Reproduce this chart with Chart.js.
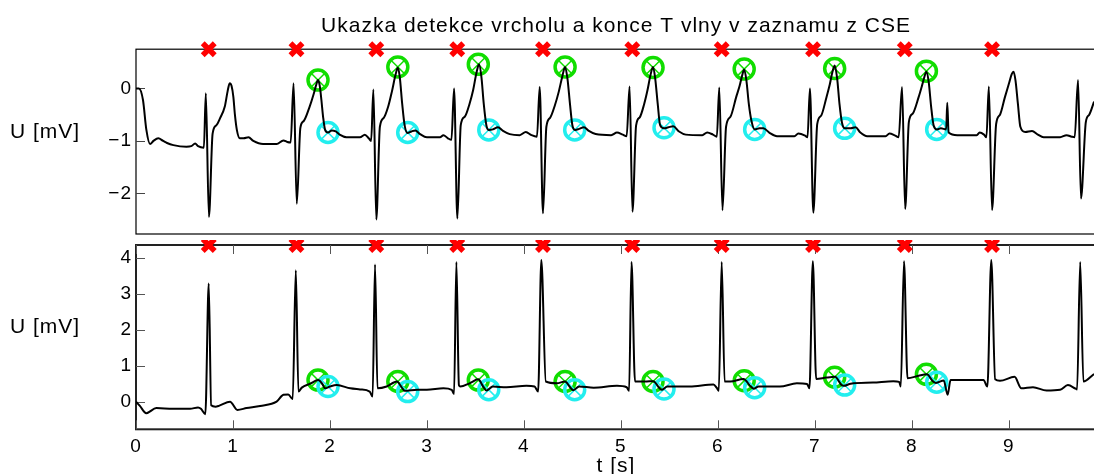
<!DOCTYPE html>
<html>
<head>
<meta charset="utf-8">
<title>Ukazka detekce vrcholu a konce T vlny</title>
<script src="https://cdn.jsdelivr.net/npm/chart.js@4.4.1/dist/chart.umd.min.js"></script>
<style>
  html, body { margin: 0; padding: 0; overflow: hidden; background: #fff; }
  canvas { position: absolute; left: 0; display: block; }
  #ecg-top { top: 0; width: 1100px; height: 236px; }
  #ecg-bottom { top: 240px; width: 1100px; height: 237px; }
</style>
</head>
<body>
<canvas id="ecg-top" width="1100" height="236"></canvas>
<canvas id="ecg-bottom" width="1100" height="237"></canvas>
<script>
/*
  Ukazka detekce vrcholu a konce T vlny v zaznamu z CSE
  two leads, time in s, voltage in mV
*/

// lead 1 (upper panel)
const topTime = [
  0.00, 0.03, 0.072, 0.107, 0.145, 0.18, 0.23, 0.28, 0.32, 0.385, 0.52, 0.57, 0.61, 0.64, 0.70,
  0.72, 0.752, 0.79, 0.83, 0.866, 0.915, 0.945, 0.966, 0.985, 1.004, 1.02, 1.04, 1.07, 1.11, 1.16, 1.21, 1.31, 1.45, 1.52, 1.56, 1.595,
  1.625, 1.658, 1.695, 1.73, 1.79, 1.83, 1.855, 1.877, 1.895, 1.912, 1.93, 1.95, 1.98, 2.02, 2.06, 2.10, 2.17, 2.31, 2.36, 2.40, 2.425,
  2.448, 2.478, 2.515, 2.555, 2.60, 2.64, 2.675, 2.70, 2.72, 2.745, 2.77, 2.80, 2.84, 2.88, 2.93, 3.00, 3.135, 3.17, 3.217, 3.253,
  3.28, 3.314, 3.349, 3.39, 3.44, 3.477, 3.51, 3.537, 3.562, 3.586, 3.613, 3.64, 3.68, 3.733, 3.785, 3.854, 3.957, 4.02, 4.078, 4.135,
  4.163, 4.197, 4.232, 4.27, 4.32, 4.36, 4.395, 4.425, 4.45, 4.475, 4.50, 4.53, 4.57, 4.62, 4.67, 4.74, 4.90, 4.96, 5.02, 5.06,
  5.09, 5.12, 5.157, 5.195, 5.24, 5.275, 5.305, 5.332, 5.355, 5.38, 5.405, 5.445, 5.49, 5.54, 5.60, 5.67, 5.84, 5.89, 5.95, 5.99,
  6.015, 6.048, 6.085, 6.13, 6.19, 6.225, 6.25, 6.272, 6.295, 6.32, 6.345, 6.38, 6.43, 6.47, 6.53, 6.61, 6.79, 6.83, 6.90, 6.925,
  6.95, 6.985, 7.025, 7.065, 7.12, 7.155, 7.18, 7.205, 7.23, 7.255, 7.28, 7.31, 7.37, 7.42, 7.47, 7.54, 7.73, 7.77, 7.83, 7.865,
  7.90, 7.932, 7.97, 8.01, 8.07, 8.105, 8.13, 8.151, 8.175, 8.20, 8.225, 8.26, 8.30, 8.355, 8.366, 8.38, 8.47, 8.67, 8.70, 8.745, 8.77,
  8.795, 8.828, 8.87, 8.91, 8.96, 9.00, 9.03, 9.05, 9.07, 9.095, 9.12, 9.17, 9.24, 9.30, 9.36, 9.53, 9.596, 9.65, 9.68,
  9.715, 9.745, 9.795, 9.83, 9.88
];
const topVolt = [
  0.00, 0.00, -0.22, -0.79, -1.06, -1.00, -0.95, -1.00, -1.04, -1.08, -1.11, -1.10, -1.05, -1.10, -1.13,
  -0.09, -2.45, -0.86, -0.70, -0.57, -0.35, -0.05, 0.10, 0.05, -0.16, -0.50, -0.79, -0.95, -0.95, -0.93, -1.00, -1.06, -1.06, -0.99, -1.02, -1.03,
  0.10, -2.20, -0.75, -0.62, -0.35, -0.12, 0.05, 0.16, 0.05, -0.22, -0.55, -0.79, -0.84, -0.80, -0.82, -0.88, -0.93, -0.93, -0.88, -0.95, -1.00,
  -0.02, -2.50, -0.73, -0.56, -0.35, -0.05, 0.25, 0.40, 0.22, -0.29, -0.70, -0.85, -0.82, -0.80, -0.87, -0.93, -0.93, -0.89, -0.95, -0.98,
  0.00, -2.48, -0.70, -0.54, -0.29, -0.03, 0.29, 0.46, 0.22, -0.29, -0.70, -0.79, -0.78, -0.74, -0.81, -0.87, -0.89, -0.83, -0.89, -0.92,
  0.03, -2.38, -0.73, -0.56, -0.32, -0.06, 0.22, 0.41, 0.18, -0.29, -0.70, -0.79, -0.77, -0.74, -0.81, -0.87, -0.89, -0.84, -0.88, -0.91,
  0.04, -2.35, -0.71, -0.55, -0.30, -0.03, 0.25, 0.41, 0.18, -0.29, -0.70, -0.76, -0.74, -0.72, -0.82, -0.88, -0.89, -0.84, -0.88, -0.92,
  0.02, -2.32, -0.73, -0.54, -0.16, 0.05, 0.24, 0.36, 0.15, -0.30, -0.60, -0.78, -0.76, -0.76, -0.84, -0.91, -0.91, -0.86, -0.90, -0.93,
  0.00, -2.37, -0.68, -0.52, -0.17, 0.08, 0.30, 0.44, 0.20, -0.30, -0.65, -0.76, -0.76, -0.74, -0.84, -0.91, -0.91, -0.86, -0.90, -0.93,
  0.03, -2.30, -0.64, -0.48, -0.17, 0.05, 0.22, 0.32, 0.12, -0.35, -0.70, -0.78, -0.76, -0.78, -0.27, -0.84, -0.89, -0.89, -0.84, -0.88, -0.93,
  0.04, -2.32, -0.68, -0.50, -0.17, 0.08, 0.27, 0.32, 0.15, -0.30, -0.73, -0.83, -0.81, -0.88, -0.93, -0.93, -0.89, -0.92, -0.93,
  0.16, -2.10, -0.64, -0.50, -0.25
];

// lead 2 (lower panel)
const botTime = [
  0.00, 0.04, 0.105, 0.21, 0.38, 0.557, 0.64, 0.67, 0.715,
  0.750, 0.775, 0.82, 0.86, 0.97, 1.045, 1.14, 1.28, 1.45, 1.52, 1.57, 1.616,
  1.648, 1.675, 1.71, 1.795, 1.88, 1.92, 1.95, 2.00, 2.07, 2.21, 2.31, 2.41, 2.44,
  2.465, 2.49, 2.585, 2.69, 2.74, 2.77, 2.90, 3.00, 3.17, 3.256, 3.28,
  3.304, 3.33, 3.345, 3.44, 3.53, 3.58, 3.614, 3.68, 3.82, 4.026, 4.11, 4.147,
  4.18, 4.226, 4.34, 4.425, 4.477, 4.51, 4.57, 4.72, 4.96, 5.06, 5.085,
  5.11, 5.146, 5.25, 5.336, 5.39, 5.42, 5.48, 5.71, 5.955, 5.99, 6.01,
  6.04, 6.07, 6.13, 6.265, 6.34, 6.37, 6.42, 6.64, 6.815, 6.92, 6.945,
  6.98, 7.014, 7.12, 7.21, 7.27, 7.30, 7.37, 7.60, 7.81, 7.87, 7.887,
  7.92, 7.956, 8.07, 8.156, 8.22, 8.25, 8.33, 8.37, 8.40, 8.53, 8.74, 8.78,
  8.82, 8.86, 8.91, 9.06, 9.13, 9.25, 9.39, 9.53, 9.61, 9.69, 9.705,
  9.737, 9.77, 9.88
];
const botVolt = [
  0.00, -0.12, -0.32, -0.18, -0.20, -0.20, -0.16, -0.20, -0.35,
  3.29, -0.10, -0.14, -0.11, 0.00, -0.23, -0.18, -0.12, 0.00, 0.19, 0.20, 0.07,
  3.66, 0.28, 0.39, 0.50, 0.60, 0.50, 0.37, 0.42, 0.46, 0.37, 0.34, 0.28, 0.14,
  3.82, 0.37, 0.42, 0.56, 0.40, 0.30, 0.33, 0.33, 0.37, 0.33, 0.21,
  3.89, 0.46, 0.42, 0.51, 0.62, 0.42, 0.31, 0.42, 0.40, 0.44, 0.42, 0.28,
  3.94, 0.56, 0.51, 0.56, 0.40, 0.32, 0.42, 0.39, 0.44, 0.40, 0.30,
  3.89, 0.56, 0.56, 0.57, 0.40, 0.33, 0.42, 0.42, 0.48, 0.38, 0.30,
  3.89, 0.56, 0.56, 0.63, 0.42, 0.36, 0.42, 0.42, 0.51, 0.49, 0.37,
  3.91, 0.63, 0.67, 0.69, 0.48, 0.44, 0.50, 0.53, 0.57, 0.55, 0.42,
  3.91, 0.65, 0.72, 0.76, 0.56, 0.52, 0.59, 0.19, 0.60, 0.60, 0.60, 0.42,
  3.94, 0.62, 0.58, 0.69, 0.37, 0.40, 0.31, 0.33, 0.46, 0.36, 0.34,
  3.89, 0.56, 0.77
];

// detected points
const qrsTimes = [0.75, 1.655, 2.478, 3.313, 4.197, 5.118, 6.04, 6.982, 7.928, 8.828];
const tPeakTimes = [1.877, 2.70, 3.53, 4.425, 5.332, 6.272, 7.205, 8.151];
const tPeakTop = [0.16, 0.41, 0.46, 0.41, 0.40, 0.37, 0.38, 0.33];
const tPeakBot = [0.60, 0.56, 0.60, 0.56, 0.56, 0.58, 0.68, 0.76];
const tEndTimes = [1.98, 2.802, 3.638, 4.524, 5.445, 6.38, 7.308, 8.257];
const tEndTop = [-0.84, -0.84, -0.79, -0.79, -0.75, -0.78, -0.76, -0.78];
const tEndBot = [0.42, 0.28, 0.33, 0.33, 0.35, 0.39, 0.46, 0.54];

// axis limits (tight, like the original)
const topLimits = [-2.775, 0.749];
const botLimits = [-0.77, 4.36];
const timeLimits = [0, 9.9];

const FONT = '"Liberation Sans", Arial, Helvetica, sans-serif';

const toPoints = (xs, ys) => xs.map((x, i) => ({ x: x, y: ys[i] }));
const fmtTick = (v) => (v < 0 ? '\u2212' + Math.abs(v) : String(v));

// matlab-like box, inward ticks and horizontal ylabel
const matlabAxes = {
  id: 'matlabAxes',
  beforeDraw(chart) {
    // the original text is a bit wider than Arial at the same height
    if ('letterSpacing' in chart.ctx) chart.ctx.letterSpacing = '1px';
  },
  beforeDatasetsDraw(chart, args, opts) {
    const { ctx, chartArea: a, scales } = chart;
    ctx.save();
    ctx.strokeStyle = opts.frameColor;
    ctx.lineWidth = opts.frameWidth;
    ctx.strokeRect(a.left, a.top, a.right - a.left, a.bottom - a.top);
    ctx.strokeStyle = opts.tickColor;
    ctx.lineWidth = 1;
    ctx.beginPath();
    scales.y.ticks.forEach((t) => {
      const py = Math.round(scales.y.getPixelForValue(t.value)) + 0.5;
      ctx.moveTo(a.left, py);
      ctx.lineTo(a.left + 9, py);
    });
    if (opts.xTicks) {
      scales.x.ticks.forEach((t) => {
        const px = Math.round(scales.x.getPixelForValue(t.value)) + 0.5;
        ctx.moveTo(px, a.bottom);
        ctx.lineTo(px, a.bottom - 9);
        ctx.moveTo(px, a.top);
        ctx.lineTo(px, a.top + 9);
      });
    }
    ctx.stroke();
    ctx.restore();
  },
  afterDraw(chart, args, opts) {
    const { ctx, chartArea: a } = chart;
    ctx.save();
    ctx.fillStyle = '#000';
    ctx.font = '21px ' + FONT;
    ctx.textAlign = 'center';
    ctx.textBaseline = 'middle';
    ctx.fillText(opts.yLabel, 45, (a.top + a.bottom) / 2 - 9.5);
    ctx.restore();
  },
};

function markerSets(peakVals, endVals, qrsLevel) {
  const qrsVals = qrsTimes.map(() => qrsLevel);
  return [
    {
      data: toPoints(tEndTimes, endVals),
      pointStyle: 'circle', pointRadius: 10, pointBorderWidth: 3.5,
      pointBorderColor: '#22eeee', pointBackgroundColor: 'rgba(0,0,0,0)',
      showLine: false, order: 1, clip: false,
    },
    {
      data: toPoints(tEndTimes, endVals),
      pointStyle: 'crossRot', pointRadius: 10, pointBorderWidth: 1.5,
      pointBorderColor: '#22eeee', showLine: false, order: 1, clip: false,
    },
    {
      data: toPoints(tPeakTimes, peakVals),
      pointStyle: 'circle', pointRadius: 10, pointBorderWidth: 3.5,
      pointBorderColor: '#11dd00', pointBackgroundColor: 'rgba(0,0,0,0)',
      showLine: false, order: 2, clip: false,
    },
    {
      data: toPoints(tPeakTimes, peakVals),
      pointStyle: 'crossRot', pointRadius: 10, pointBorderWidth: 1.5,
      pointBorderColor: '#11dd00', showLine: false, order: 2, clip: false,
    },
    {
      data: toPoints(qrsTimes, qrsVals),
      pointStyle: 'crossRot', pointRadius: 8.5, pointBorderWidth: 5.5,
      pointBorderColor: '#ff0000', showLine: false, order: 0, clip: false,
    },
  ];
}

function yScale(limits) {
  return {
    type: 'linear',
    min: limits[0],
    max: limits[1],
    grid: { display: false, drawTicks: false },
    border: { display: false },
    ticks: {
      stepSize: 1,
      includeBounds: false,
      padding: 4,
      color: '#000',
      font: { family: FONT, size: 19 },
      callback: fmtTick,
    },
    afterFit: (scale) => {
      scale.width = 136;
      scale.paddingTop = 0;
      scale.paddingBottom = 0;
    },
  };
}

function traceSet(xs, ys) {
  return {
    data: toPoints(xs, ys),
    showLine: true, borderColor: '#000', borderWidth: 2,
    pointRadius: 0, cubicInterpolationMode: 'monotone', order: 0,
  };
}

const topConfig = {
  type: 'scatter',
  data: {
    datasets: [traceSet(topTime, topVolt)].concat(markerSets(tPeakTop, tEndTop, topLimits[1])),
  },
  options: {
    responsive: false,
    animation: false,
    devicePixelRatio: 1,
    layout: { autoPadding: false, padding: { top: 0, right: 4, bottom: 2, left: 0 } },
    scales: {
      x: { type: 'linear', display: false, min: timeLimits[0], max: timeLimits[1] },
      y: yScale(topLimits),
    },
    plugins: {
      legend: { display: false },
      tooltip: { enabled: false },
      title: {
        display: true,
        fullSize: false,
        text: 'Ukazka detekce vrcholu a konce T vlny v zaznamu z CSE',
        color: '#000',
        font: { family: FONT, size: 21, weight: 'normal', lineHeight: 1.2 },
        padding: { top: 14, bottom: 10 },
      },
      matlabAxes: { frameColor: '#000', frameWidth: 1.2, tickColor: '#444', xTicks: false, yLabel: 'U [mV]' },
    },
  },
  plugins: [matlabAxes],
};

const botConfig = {
  type: 'scatter',
  data: {
    datasets: [traceSet(botTime, botVolt)].concat(markerSets(tPeakBot, tEndBot, botLimits[1])),
  },
  options: {
    responsive: false,
    animation: false,
    devicePixelRatio: 1,
    layout: { autoPadding: false, padding: { top: 5, right: 4, bottom: 0, left: 0 } },
    scales: {
      x: {
        type: 'linear',
        min: timeLimits[0],
        max: timeLimits[1],
        grid: { display: false, drawTicks: false },
        border: { display: false },
        ticks: {
          stepSize: 1,
          includeBounds: false,
          padding: 6,
          maxRotation: 0,
          color: '#000',
          font: { family: FONT, size: 19 },
        },
        title: {
          display: true,
          text: 't [s]',
          color: '#000',
          font: { family: FONT, size: 21, lineHeight: 1 },
          padding: { top: 0, bottom: 0 },
        },
        afterFit: (scale) => {
          scale.height = 47.7;
          scale.paddingLeft = 0;
          scale.paddingRight = 0;
        },
      },
      y: yScale(botLimits),
    },
    plugins: {
      legend: { display: false },
      tooltip: { enabled: false },
      matlabAxes: { frameColor: '#222', frameWidth: 2, tickColor: '#555', xTicks: true, yLabel: 'U [mV]' },
    },
  },
  plugins: [matlabAxes],
};

new Chart(document.getElementById('ecg-top').getContext('2d'), topConfig);
new Chart(document.getElementById('ecg-bottom').getContext('2d'), botConfig);
</script>
</body>
</html>
